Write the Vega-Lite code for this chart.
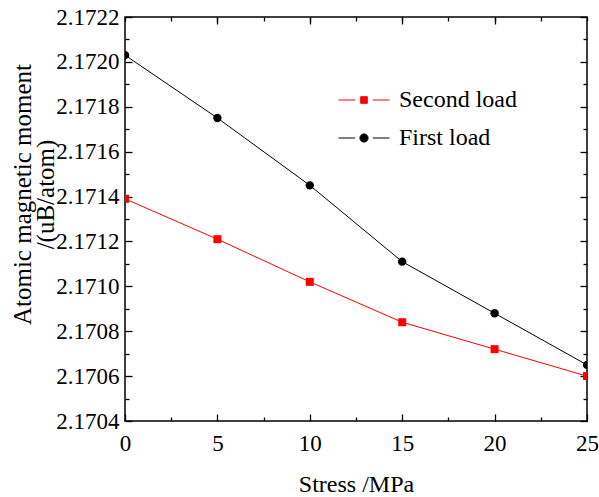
{
  "$schema": "https://vega.github.io/schema/vega-lite/v6.json",
  "width": 462,
  "height": 404,
  "autosize": "none",
  "padding": {"left": 125, "top": 17, "right": 12, "bottom": 76},
  "background": "white",
  "config": {
    "font": "Liberation Serif",
    "view": {"stroke": "black", "strokeWidth": 1.5},
    "axis": {
      "domain": false,
      "grid": false,
      "tickColor": "black",
      "tickWidth": 1.3,
      "labelColor": "black",
      "labelFont": "Liberation Serif",
      "labelFontSize": 23,
      "titleFont": "Liberation Serif",
      "titleFontSize": 24,
      "titleFontWeight": "normal",
      "titleColor": "black"
    }
  },
  "data": {
    "values": [
      {"stress": 0, "moment": 2.17203, "series": "First load"},
      {"stress": 5, "moment": 2.17175, "series": "First load"},
      {"stress": 10, "moment": 2.17145, "series": "First load"},
      {"stress": 15, "moment": 2.17111, "series": "First load"},
      {"stress": 20, "moment": 2.17088, "series": "First load"},
      {"stress": 25, "moment": 2.17065, "series": "First load"},
      {"stress": 0, "moment": 2.17139, "series": "Second load"},
      {"stress": 5, "moment": 2.17121, "series": "Second load"},
      {"stress": 10, "moment": 2.17102, "series": "Second load"},
      {"stress": 15, "moment": 2.17084, "series": "Second load"},
      {"stress": 20, "moment": 2.17072, "series": "Second load"},
      {"stress": 25, "moment": 2.1706, "series": "Second load"}
    ]
  },
  "layer": [
    {
      "mark": {"type": "line", "strokeWidth": 1, "clip": true},
      "encoding": {
        "x": {
          "field": "stress", "type": "quantitative",
          "scale": {"domain": [0, 25], "nice": false, "zero": false},
          "axis": {"orient": "bottom", "values": [0, 5, 10, 15, 20, 25], "tickSize": -7, "labelPadding": 18, "title": "Stress /MPa", "titlePadding": 17, "labelFlush": false}
        },
        "y": {
          "field": "moment", "type": "quantitative",
          "scale": {"domain": [2.1704, 2.1722], "nice": false, "zero": false},
          "axis": {"orient": "left", "values": [2.1704, 2.1706, 2.1708, 2.171, 2.1712, 2.1714, 2.1716, 2.1718, 2.172, 2.1722], "format": ".4f", "tickSize": -7, "labelPadding": 13, "title": ["Atomic magnetic moment", "/(uB/atom)\u00a0\u00a0\u00a0\u00a0\u00a0\u00a0\u00a0\u00a0\u00a0\u00a0\u00a0\u00a0\u00a0\u00a0\u00a0\u00a0\u00a0\u00a0\u00a0\u00a0\u00a0"], "titleFontSize": 25, "titleY": 177, "titlePadding": -3, "titleLineHeight": 23}
        },
        "color": {
          "field": "series", "type": "nominal",
          "scale": {"domain": ["Second load", "First load"], "range": ["#ff0000", "#000000"]},
          "legend": {
            "orient": "none",
            "legendX": 213,
            "legendY": 57,
            "title": null,
            "labelFont": "Liberation Serif",
            "labelFontSize": 24,
            "labelColor": "black",
            "labelOffset": 9,
            "rowPadding": -14,
            "symbolSize": 2601,
            "symbolStrokeWidth": 1,
            "encode": {
              "symbols": {
                "update": {
                  "shape": {"signal": "datum.value === 'Second load' ? 'M-1,0H-0.35M0.35,0H1M-0.13,-0.13H0.13V0.13H-0.13Z' : 'M-1,0H-0.35M0.35,0H1M0.16,0A0.16,0.16,0,1,1,-0.16,0A0.16,0.16,0,1,1,0.16,0Z'"},
                  "stroke": {"signal": "datum.value === 'Second load' ? '#ff0000' : '#000000'"},
                  "fill": {"signal": "datum.value === 'Second load' ? '#ff0000' : '#000000'"},
                  "strokeWidth": {"value": 1},
                  "opacity": {"value": 1}
                }
              }
            }
          }
        }
      }
    },
    {
      "transform": [{"filter": "datum.series === 'Second load'"}],
      "mark": {"type": "point", "shape": "square", "filled": true, "opacity": 1, "size": 64, "clip": true},
      "encoding": {
        "x": {
          "field": "stress", "type": "quantitative",
          "axis": {"orient": "bottom", "values": [2.5, 7.5, 12.5, 17.5, 22.5], "tickSize": -4, "labels": false, "title": null}
        },
        "y": {
          "field": "moment", "type": "quantitative",
          "axis": {"orient": "left", "values": [2.1705, 2.1707, 2.1709, 2.1711, 2.1713, 2.1715, 2.1717, 2.1719, 2.1721], "tickSize": -4, "labels": false, "title": null}
        },
        "color": {"field": "series", "type": "nominal"}
      }
    },
    {
      "transform": [{"filter": "datum.series === 'First load'"}],
      "mark": {"type": "point", "shape": "circle", "filled": true, "opacity": 1, "size": 70, "clip": true},
      "encoding": {
        "x": {
          "field": "stress", "type": "quantitative",
          "axis": {"orient": "top", "values": [0, 2.5, 5, 7.5, 10, 12.5, 15, 17.5, 20, 22.5, 25], "tickSize": -4, "labels": false, "title": null}
        },
        "y": {
          "field": "moment", "type": "quantitative",
          "axis": {"orient": "right", "values": [2.1704, 2.1706, 2.1708, 2.171, 2.1712, 2.1714, 2.1716, 2.1718, 2.172, 2.1722], "tickSize": -7, "labels": false, "title": null}
        },
        "color": {"field": "series", "type": "nominal"}
      }
    },
    {
      "mark": {"type": "point", "opacity": 0},
      "encoding": {
        "x": {
          "field": "stress", "type": "quantitative",
          "axis": {"orient": "top", "values": [5, 10, 15, 20], "tickSize": -7, "labels": false, "title": null}
        },
        "y": {
          "field": "moment", "type": "quantitative",
          "axis": {"orient": "right", "values": [2.1705, 2.1707, 2.1709, 2.1711, 2.1713, 2.1715, 2.1717, 2.1719, 2.1721], "tickSize": -4, "labels": false, "title": null}
        }
      }
    }
  ],
  "resolve": {"axis": {"x": "independent", "y": "independent"}}
}
